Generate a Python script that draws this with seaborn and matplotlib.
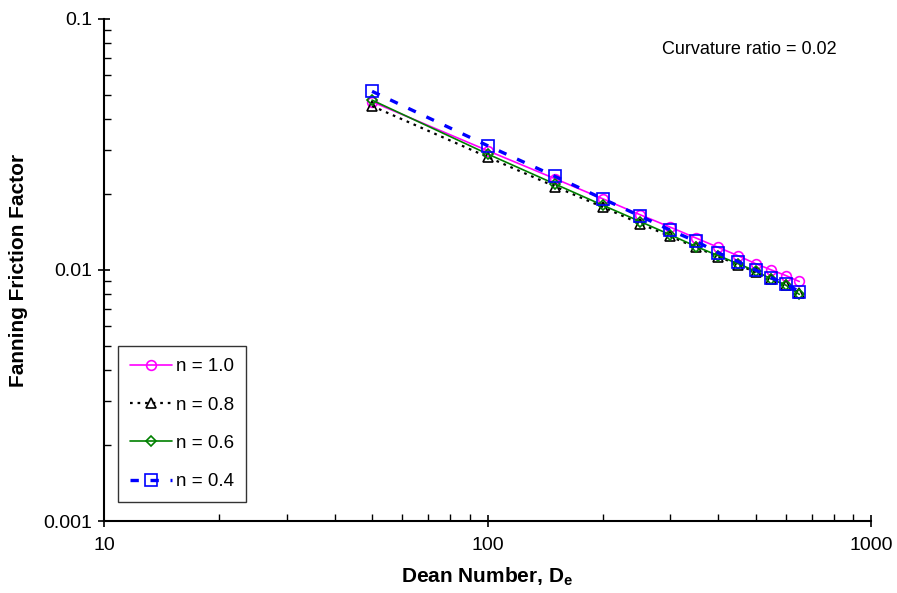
import matplotlib
matplotlib.use("Agg")
import matplotlib.pyplot as plt
import matplotlib.ticker as mticker
import seaborn as sns
import pandas as pd

dean = [50, 100, 150, 200, 250, 300, 350, 400, 450, 500, 550, 600, 650]
f_n10 = [0.0468, 0.0299, 0.0231, 0.0192, 0.0166, 0.0148, 0.0134, 0.0123, 0.0114, 0.0106, 0.0100, 0.0095, 0.0090]
f_n08 = [0.0450, 0.0282, 0.0215, 0.0178, 0.0153, 0.0136, 0.0123, 0.0113, 0.0105, 0.0098, 0.0092, 0.0087, 0.0081]
f_n06 = [0.0475, 0.0290, 0.0220, 0.0181, 0.0156, 0.0138, 0.0124, 0.0114, 0.0106, 0.0099, 0.0092, 0.0087, 0.0080]
f_n04 = [0.0515, 0.0313, 0.0236, 0.0192, 0.0164, 0.0144, 0.0130, 0.0117, 0.0108, 0.0100, 0.0093, 0.0088, 0.0082]
series_labels = ["n = 1.0", "n = 0.8", "n = 0.6", "n = 0.4"]

sns.set_theme(style="white")
plt.rcParams['font.family'] = ['Liberation Sans', 'DejaVu Sans']
plt.rcParams['mathtext.fontset'] = 'custom'
plt.rcParams['mathtext.rm'] = 'Liberation Sans'
plt.rcParams['mathtext.bf'] = 'Liberation Sans:bold'
plt.rcParams['text.color'] = 'black'
plt.rcParams['axes.labelcolor'] = 'black'
plt.rcParams['xtick.color'] = 'black'
plt.rcParams['ytick.color'] = 'black'

frames = []
for lab, vals in zip(series_labels, [f_n10, f_n08, f_n06, f_n04]):
    frames.append(pd.DataFrame({"Dean": dean, "f": vals, "series": lab}))
df = pd.concat(frames, ignore_index=True)

styles = {
    "n = 1.0": dict(color="#FF00FF", marker="o", linestyle="-", lw=1.2, ms=7),
    "n = 0.8": dict(color="black", marker="^", linestyle=(0, (1.2, 2.2)), lw=1.6, ms=7),
    "n = 0.6": dict(color="#008000", marker="D", linestyle="-", lw=1.2, ms=5),
    "n = 0.4": dict(color="#0000FF", marker="s", linestyle=(0, (2.5, 3.5)), lw=2.4, ms=8),
}

fig = plt.figure(figsize=(8.97, 5.93), dpi=100)
ax = fig.add_axes([0.116, 0.1214, 0.855, 0.8466])

for lab in series_labels:
    st = styles[lab]
    sub = df[df["series"] == lab]
    sns.lineplot(data=sub, x="Dean", y="f", ax=ax, color=st["color"],
                 marker=st["marker"], linestyle=st["linestyle"], linewidth=st["lw"],
                 markersize=st["ms"], markerfacecolor="none",
                 markeredgecolor=st["color"], markeredgewidth=1.2, label=lab)

ax.set_xscale("log")
ax.set_yscale("log")
ax.set_xlim(10, 1000)
ax.set_ylim(0.001, 0.1)

ax.xaxis.set_major_locator(mticker.FixedLocator([10, 100, 1000]))
ax.xaxis.set_major_formatter(mticker.FixedFormatter(["10", "100", "1000"]))
ax.yaxis.set_major_locator(mticker.FixedLocator([0.001, 0.01, 0.1]))
ax.yaxis.set_major_formatter(mticker.FixedFormatter(["0.001", "0.01", "0.1"]))
ax.xaxis.set_minor_locator(mticker.LogLocator(base=10, subs=range(2, 10)))
ax.yaxis.set_minor_locator(mticker.LogLocator(base=10, subs=range(2, 10)))
ax.xaxis.set_minor_formatter(mticker.NullFormatter())
ax.yaxis.set_minor_formatter(mticker.NullFormatter())

ax.tick_params(which="major", direction="inout", length=9, width=1.2, labelsize=14,
               colors="black", labelcolor="black")
ax.tick_params(which="minor", direction="in", length=5, width=1.0, colors="black")
ax.tick_params(axis="x", which="major", pad=7)
ax.tick_params(axis="y", which="major", pad=4)
ax.tick_params(axis="x", which="both", bottom=True, top=False)
ax.tick_params(axis="y", which="both", left=True, right=False)

for side in ["top", "right"]:
    ax.spines[side].set_visible(False)
for side in ["left", "bottom"]:
    ax.spines[side].set_color("black")
    ax.spines[side].set_linewidth(1.5)

ax.set_xlabel(r"Dean Number, D$_{\mathbf{e}}$", fontsize=15, fontweight="bold", color="black")
ax.set_ylabel("Fanning Friction Factor", fontsize=15, fontweight="bold", color="black")
ax.xaxis.set_label_coords(0.5, -0.1116)
ax.xaxis.label.set_va("center")
ax.yaxis.set_label_coords(-0.112, 0.5)
ax.yaxis.label.set_va("center")

ax.text(0.955, 0.94, "Curvature ratio = 0.02", transform=ax.transAxes,
        ha="right", va="center", fontsize=13, color="black")

leg = ax.legend(loc="lower left", bbox_to_anchor=(0.018, 0.037), fontsize=13.5,
                frameon=True, fancybox=False, edgecolor="black", handlelength=2.25,
                handletextpad=0.2, labelspacing=1.13, borderpad=0.65, borderaxespad=0.0)
leg.get_frame().set_linewidth(1.0)
for t in leg.get_texts():
    t.set_color("black")

fig.savefig("out.png", dpi=100)
